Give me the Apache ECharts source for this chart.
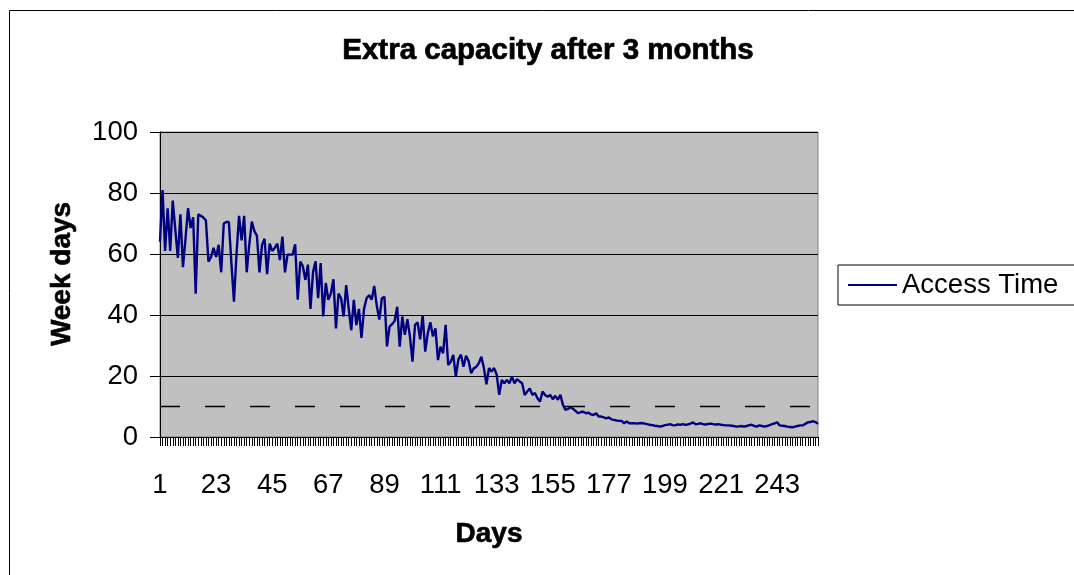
<!DOCTYPE html>
<html>
<head>
<meta charset="utf-8">
<script src="https://cdn.jsdelivr.net/npm/echarts@6/dist/echarts.min.js"></script>
<style>
  html, body { margin: 0; padding: 0; background: #fff; }
  #chart { width: 1074px; height: 575px; }
</style>
</head>
<body>
<div id="chart"></div>
<script>
// Daily access time (week days) over the first 259 days
const dayCount = 259;
const days = Array.from({ length: dayCount }, (_, i) => String(i + 1));

const accessTime = [
  64, 81, 61, 75, 61, 77.5, 68, 58.7, 73, 55.7,
  65, 75, 68.5, 72, 47, 73, 72.5, 72, 71, 57.5,
  59, 62, 59, 63, 54, 70, 70.5, 70.5, 57, 44.4,
  60,
  72.5, 64.5, 72.5, 54, 63, 70.6, 67.5, 66, 54,
  63, 65, 53.4, 63.4, 61, 62, 63.4, 58, 65.7, 54,
  59.8, 59.8, 59.8, 63.2, 45, 57.5, 56, 51.5, 56.5, 42,
  54,
  57.6, 45.5, 57, 39.5, 50.5, 45, 47, 51.7, 35.6,
  47, 45.5, 39.5, 49.8, 42, 35, 45, 36.7, 42, 32.5,
  42, 45.5, 46.5, 45, 49.5, 43, 38.5, 45.5, 46, 29.7,
  36.2, 37, 38, 42.7, 29.6, 39.5, 33.5, 38.6, 33, 24.7,
  36.8, 37.6, 32, 40, 28, 34, 37.6, 33, 35.6, 25.2,
  29.6, 27.4, 36.8, 23.6, 24.7, 26.9, 19.8, 25.5, 27, 23,
  26.6, 24.9, 20.9, 22.5, 23, 24.2, 26.3, 22.6, 17.3, 22.6,
  21.5, 22.6, 20.5, 13.8, 18.7, 17.6, 18.7, 17.6, 19.8, 17.6,
  19, 18.2, 17.6, 13.8, 14.9, 15.9, 13.8, 14.4, 12.7, 11.6,
  14.9, 13.8, 13.2, 13.8, 12.4, 13.5, 12.2, 13.8, 10.5, 8.9,
  9.2, 9.8, 9.2, 8.5, 7.8, 8.2, 8.3, 7.8, 8.0, 7.4,
  7.2, 7.8, 6.7, 6.7, 6.4, 6.1, 6.4, 5.8, 5.6, 5.4,
  5.3, 5.3, 4.5, 5.1, 4.5, 4.5, 4.5, 4.4,
  4.5, 4.6, 4.4, 4.2, 4.0, 3.9, 3.7, 3.6, 3.4, 3.6,
  3.9, 4.0, 4.2, 3.9, 3.8, 4.1, 4.0, 4.2, 4.0, 4.1,
  4.4, 4.8, 4.2, 4.3, 4.5, 4.2, 4.1, 4.3, 4.4, 4.2,
  4.1, 4.2, 4.0, 3.9, 3.8, 3.8, 3.7, 3.6, 3.4, 3.5,
  3.6, 3.4, 3.6, 3.9, 4.0, 3.6, 3.4, 3.8, 3.6, 3.4,
  3.6, 3.9, 4.2, 4.5, 4.8, 3.8, 3.7, 3.6, 3.4, 3.3,
  3.2, 3.4, 3.6, 3.8, 3.8, 4.3, 4.8, 4.9, 5.2, 4.9,
  4.3
];

// Target threshold drawn as a dashed reference line
const threshold = 10;

const FONT = '"Liberation Sans", Arial, Helvetica, sans-serif';
const NAVY = '#000080';

const chart = echarts.init(document.getElementById('chart'), null, { renderer: 'canvas' });

chart.setOption({
  backgroundColor: '#ffffff',
  animation: false,
  title: {
    text: 'Extra capacity after 3 months',
    left: 543,
    top: 31,
    textAlign: 'center',
    textStyle: {
      fontFamily: FONT, fontSize: 29.5, fontWeight: 'bold', color: '#000',
      textBorderColor: '#000', textBorderWidth: 0.7
    }
  },
  legend: {
    left: 838,
    top: 265,
    orient: 'vertical',
    padding: [6, 20, 6, 10],
    borderColor: '#000',
    borderWidth: 1,
    icon: 'rect',
    itemWidth: 49,
    itemHeight: 2,
    itemGap: 0,
    itemStyle: { color: NAVY },
    textStyle: { fontFamily: FONT, fontSize: 27.5, color: '#000', padding: [0, 0, 0, 0] },
    data: ['Access Time']
  },
  grid: {
    left: 160,
    top: 132,
    width: 658,
    height: 305,
    show: true,
    backgroundColor: '#C0C0C0',
    borderColor: '#808080',
    borderWidth: 1
  },
  xAxis: {
    type: 'category',
    data: days,
    boundaryGap: false,
    name: 'Days',
    nameLocation: 'middle',
    nameGap: 83,
    nameTextStyle: {
      fontFamily: FONT, fontSize: 28, fontWeight: 'bold', color: '#000',
      textBorderColor: '#000', textBorderWidth: 0.6
    },
    axisLine: { show: true, onZero: false, lineStyle: { color: '#000', width: 1 } },
    axisTick: { show: true, interval: 0, length: 9, lineStyle: { color: '#000', width: 1 } },
    axisLabel: {
      interval: 21,
      margin: 34,
      fontFamily: FONT,
      fontSize: 27.5,
      color: '#000'
    },
    splitLine: { show: false }
  },
  yAxis: {
    type: 'value',
    min: 0,
    max: 100,
    interval: 20,
    axisLine: { show: true, lineStyle: { color: '#000', width: 1 } },
    axisTick: { show: true, length: 10, lineStyle: { color: '#000', width: 1 } },
    axisLabel: { margin: 22, fontFamily: FONT, fontSize: 27.5, color: '#000' },
    splitLine: { show: true, lineStyle: { color: '#000', width: 1 } }
  },
  graphic: [
    {
      type: 'rect',
      shape: { x: 9.5, y: 10.5, width: 1200, height: 700 },
      style: { fill: 'none', stroke: '#000', lineWidth: 1 },
      silent: true,
      z: -10
    },
    {
      type: 'text',
      x: 62,
      y: 274,
      rotation: Math.PI / 2,
      style: {
        text: 'Week days',
        fontFamily: FONT,
        fontSize: 28,
        fontWeight: 'bold',
        fill: '#000',
        stroke: '#000',
        lineWidth: 0.6,
        textAlign: 'center',
        textVerticalAlign: 'middle'
      }
    }
  ],
  series: [
    {
      name: 'Access Time',
      type: 'line',
      data: accessTime,
      symbol: 'none',
      showSymbol: false,
      smooth: false,
      lineStyle: { color: NAVY, width: 2.4 },
      itemStyle: { color: NAVY },
      markLine: {
        silent: true,
        symbol: ['none', 'none'],
        label: { show: false },
        lineStyle: { color: '#000', width: 1.4, type: [20, 25] },
        data: [{ yAxis: threshold }]
      }
    }
  ]
});
</script>
</body>
</html>
